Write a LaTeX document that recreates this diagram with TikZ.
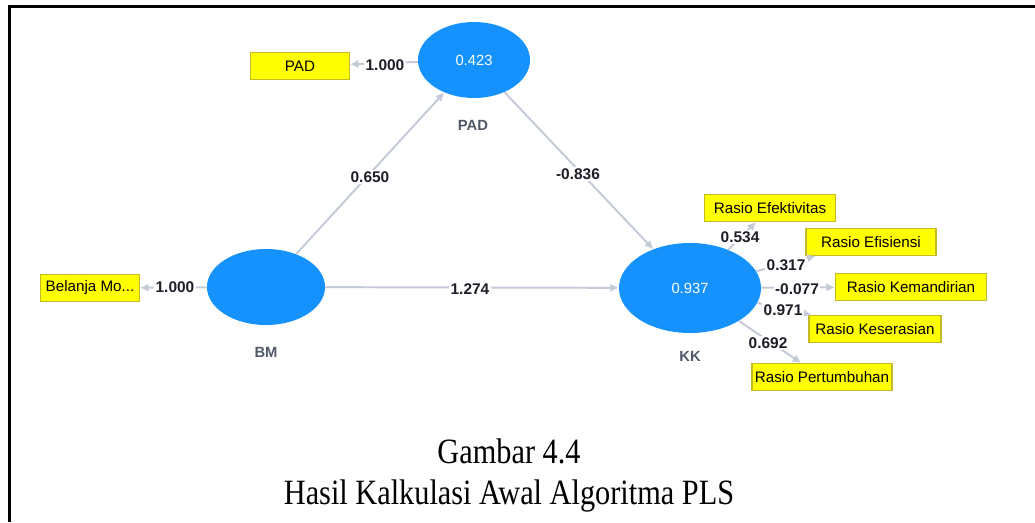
\documentclass[tikz,border=0pt]{standalone}
\usepackage{fontspec}
\setmainfont{Liberation Serif}
\setsansfont{Liberation Sans}
\usetikzlibrary{shapes.geometric,arrows.meta}
\definecolor{lvblue}{RGB}{22,146,255}
\definecolor{indyellow}{RGB}{255,255,0}
\definecolor{indborder}{RGB}{196,186,40}
\definecolor{pathgray}{RGB}{196,202,216}
\definecolor{numdark}{RGB}{30,30,40}
\definecolor{lvname}{RGB}{80,88,105}
\tikzset{
  latent/.style={ellipse, fill=lvblue, text=white, inner sep=0pt,
    font=\sffamily\fontsize{10.5}{12}\selectfont},
  indicator/.style={rectangle, fill=indyellow, draw=indborder, line width=0.8pt,
    minimum height=0.675cm, inner sep=2pt, font=\sffamily\fontsize{10.8}{12}\selectfont},
  pathline/.style={-{Latex[length=6pt,width=6pt]}, draw=pathgray, line width=1.4pt},
  coef/.style={fill=white, inner sep=1pt, text=numdark,
    font=\sffamily\bfseries\fontsize{11}{12}\selectfont},
  lvlabel/.style={text=lvname, font=\sffamily\bfseries\fontsize{10.5}{12}\selectfont},
  caption/.style={font=\fontsize{22}{26}\selectfont}
}
\begin{document}
\begin{tikzpicture}[x=0.025cm, y=-0.025cm]
    \useasboundingbox (0,0) rectangle (1035,522);
    % bingkai
    \draw[line width=1.8pt] (9.5,522) -- (9.5,6.5) -- (1035,6.5);
    % variabel laten
    \node[latent, minimum width=2.8cm, minimum height=1.9cm] (pad) at (474,60) {0.423};
    \node[latent, minimum width=2.95cm, minimum height=1.9cm] (bm) at (266,287) {};
    \node[latent, minimum width=3.55cm, minimum height=2.25cm] (kk) at (690,288) {0.937};
    \node[lvlabel] (padname) at (473,125) {PAD};
    \node[lvlabel] (bmname) at (266,352) {BM};
    \node[lvlabel] (kkname) at (690,356) {KK};
    % indikator
    \node[indicator, minimum width=2.475cm] (padind) at (300,66) {PAD};
    \node[indicator, minimum width=2.475cm] (bmind) at (90,288) {Belanja Mo...};
    \node[indicator, minimum width=3.275cm] (efek) at (770,208) {Rasio Efektivitas};
    \node[indicator, minimum width=3.25cm] (efis) at (871,242) {Rasio Efisiensi};
    \node[indicator, minimum width=3.775cm] (mand) at (911,287) {Rasio Kemandirian};
    \node[indicator, minimum width=3.3cm] (sera) at (875,329) {Rasio Keserasian};
    \node[indicator, minimum width=3.5cm] (tumb) at (822,377) {Rasio Pertumbuhan};
    % jalur
    \draw[pathline] (pad) -- (padind);
    \draw[pathline] (bm) -- (bmind);
    \draw[pathline] (bm) -- (pad);
    \draw[pathline] (pad) -- (kk);
    \draw[pathline] (bm) -- (kk);
    \draw[pathline] (kk) -- (efek);
    \draw[pathline] (kk) -- (efis);
    \draw[pathline] (kk) -- (mand);
    \draw[pathline] (kk) -- (sera);
    \draw[pathline] (kk) -- (tumb);
    % koefisien
    \node[coef] (c1) at (385,65) {1.000};
    \node[coef] (c2) at (175,287) {1.000};
    \node[coef] (c3) at (370,177) {0.650};
    \node[coef] (c4) at (578,174) {-0.836};
    \node[coef] (c5) at (470,289) {1.274};
    \node[coef] (c6) at (740,237) {0.534};
    \node[coef] (c7) at (786,265) {0.317};
    \node[coef] (c8) at (797,289) {-0.077};
    \node[coef] (c9) at (783,310) {0.971};
    \node[coef] (c10) at (768,343) {0.692};
    % keterangan
    \node[caption] (cap1) at (509,451) {\scalebox{0.98}[1.15]{Gambar 4.4}};
    \node[caption] (cap2) at (509,496) {\scalebox{0.98}[1.15]{Hasil Kalkulasi Awal Algoritma PLS}};
\end{tikzpicture}
\end{document}
